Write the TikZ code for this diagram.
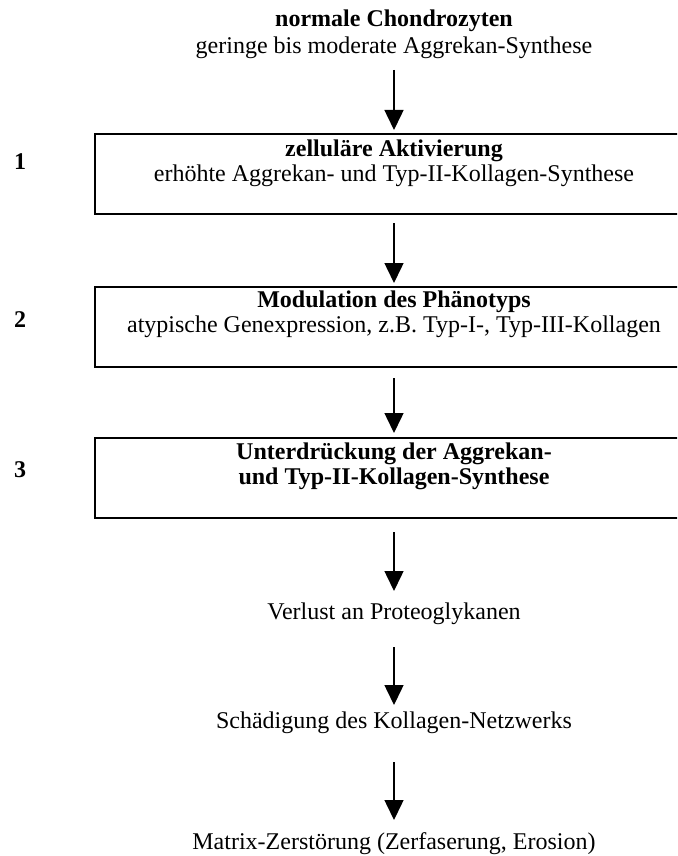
\documentclass[tikz,border=0pt]{standalone}
\usepackage{fontspec}
\setmainfont{Liberation Serif}
\usetikzlibrary{arrows.meta}
\begin{document}
\begin{tikzpicture}[x=1pt,y=-1pt,
  txt/.style={inner sep=0pt, outer sep=0pt, anchor=base, text height=17pt, text depth=6pt, font=\fontsize{24}{26}\selectfont},
  btxt/.style={txt, font=\fontsize{24}{26}\selectfont\bfseries},
  num/.style={btxt, anchor=base west},
  stepbox/.style={draw, line width=1.5pt, minimum width=598pt, minimum height=80pt, inner sep=0pt, outer sep=0pt},
  arr/.style={line width=1.5pt, -{Triangle[width=19pt,length=20pt]}}]
\useasboundingbox (0,0) rectangle (677,856);
\clip (0,0) rectangle (677,856);
% top
\node[btxt] (t1) at (394,27) {normale Chondrozyten};
\node[txt] (t2) at (394,54) {geringe bis moderate Aggrekan-Synthese};
% boxes
\node[stepbox] (b1) at (394,174) {};
\node[stepbox] (b2) at (394,327) {};
\node[stepbox] (b3) at (394,478) {};
\node[btxt] (b1a) at (394,156) {zelluläre Aktivierung};
\node[txt] (b1b) at (394,181) {erhöhte Aggrekan- und Typ-II-Kollagen-Synthese};
\node[btxt] (b2a) at (394,307) {Modulation des Phänotyps};
\node[txt] (b2b) at (394,332) {atypische Genexpression, z.B. Typ-I-, Typ-III-Kollagen};
\node[btxt] (b3a) at (394,459) {Unterdrückung der Aggrekan-};
\node[btxt] (b3b) at (394,484) {und Typ-II-Kollagen-Synthese};
% numbers
\node[num] (n1) at (14,169) {1};
\node[num] (n2) at (14,327) {2};
\node[num] (n3) at (14,477) {3};
% lower texts
\node[txt] (v) at (394,619) {Verlust an Proteoglykanen};
\node[txt] (s) at (394,728) {Schädigung des Kollagen-Netzwerks};
\node[txt] (m) at (394,849) {Matrix-Zerstörung (Zerfaserung, Erosion)};
% arrows
\draw[arr] ([yshift=-10pt]t2.south) -- ([yshift=4pt]b1.north);
\draw[arr] ([yshift=-9pt]b1.south) -- ([yshift=4pt]b2.north);
\draw[arr] ([yshift=-11pt]b2.south) -- ([yshift=5pt]b3.north);
\draw[arr] ([yshift=-14pt]b3.south) -- ([yshift=11pt]v.north);
\draw[arr] ([yshift=-22pt]v.south) -- ([yshift=6pt]s.north);
\draw[arr] ([yshift=-28pt]s.south) -- ([yshift=12pt]m.north);
\end{tikzpicture}
\end{document}
